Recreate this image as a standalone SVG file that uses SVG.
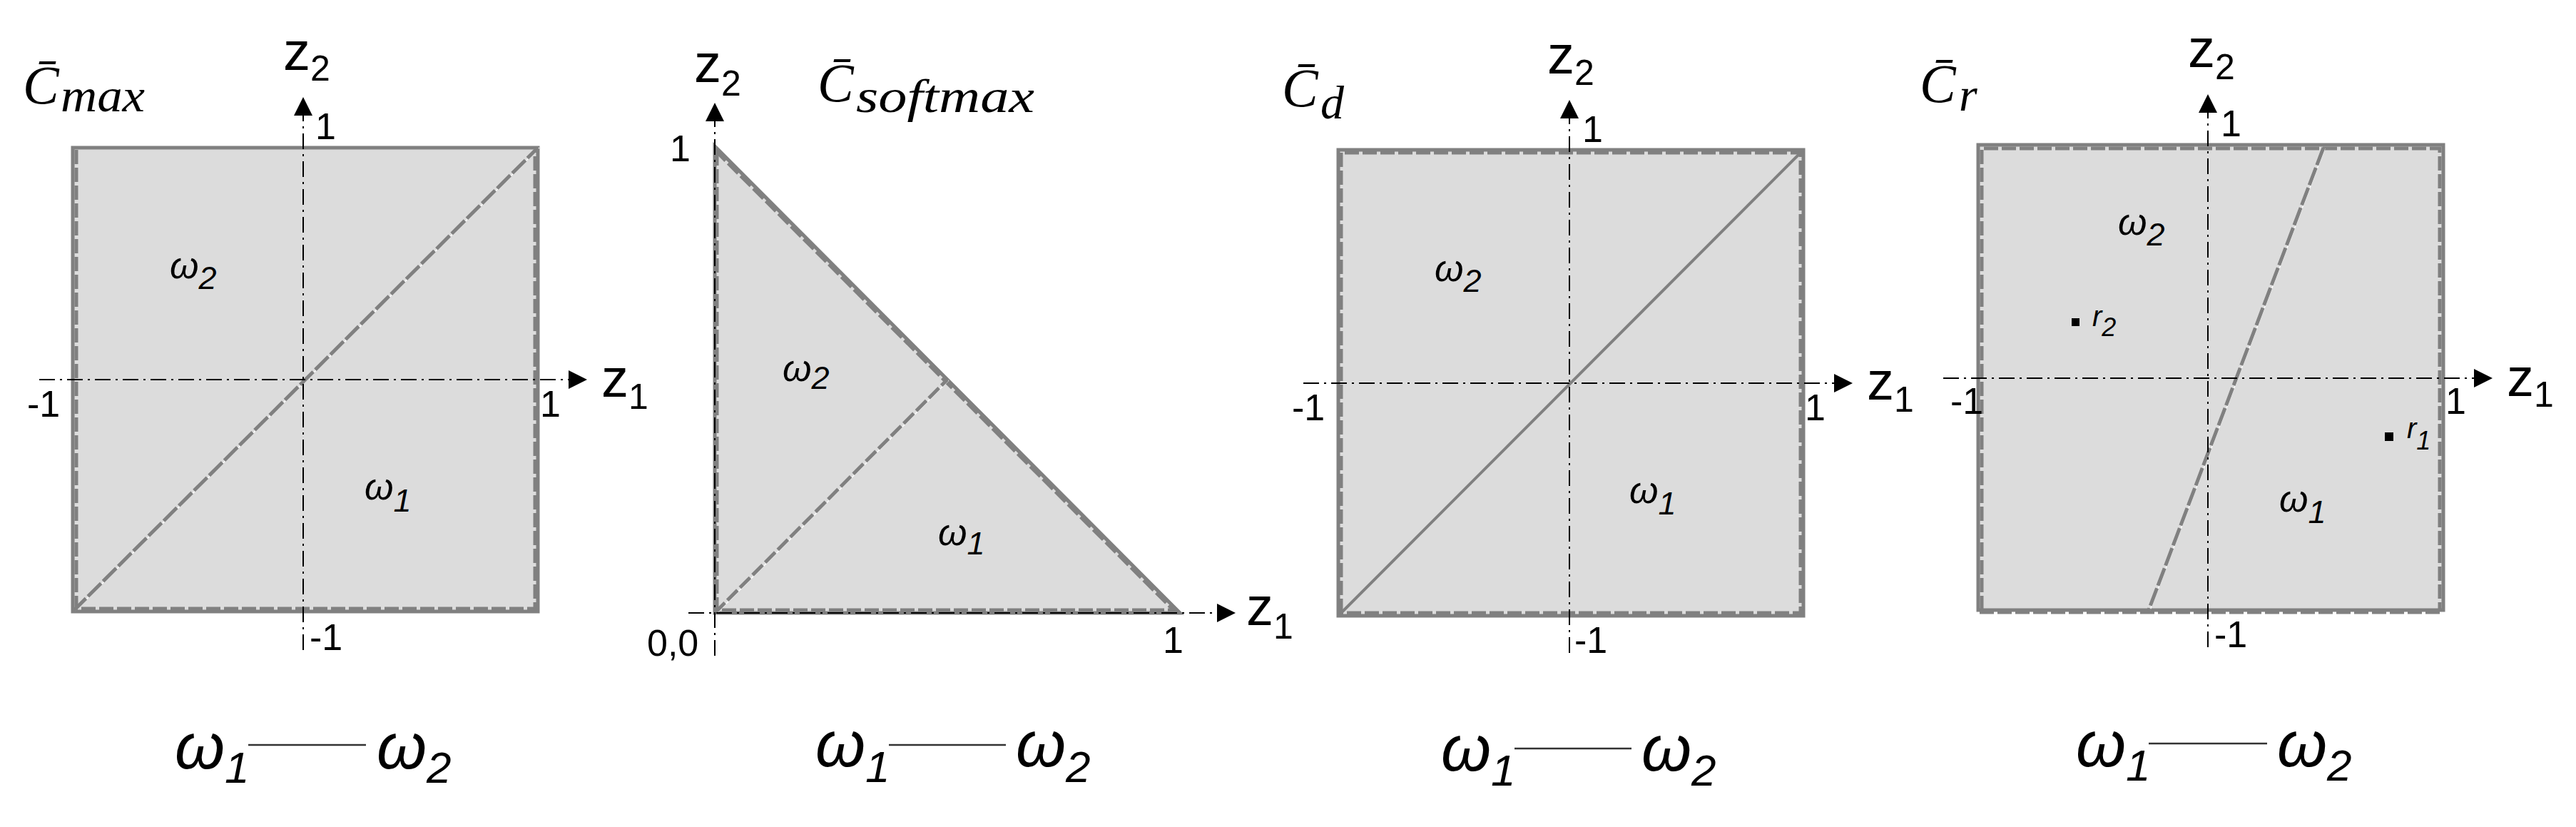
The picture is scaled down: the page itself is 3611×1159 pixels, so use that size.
<svg xmlns="http://www.w3.org/2000/svg" width="3611" height="1159" viewBox="0 0 3611 1159">
<defs>
<marker id="ah" markerWidth="26" markerHeight="26" refX="0" refY="13" orient="auto" markerUnits="userSpaceOnUse" viewBox="0 0 26 26"><path d="M0,0 L26,13 L0,26 z" fill="#000"/></marker>
</defs>
<style>
.reg{fill:#dcdcdc;stroke:#808080;stroke-width:5}
.dsh{fill:none;stroke:#808080;stroke-width:5;stroke-dasharray:20 5}
.bnd{fill:none;stroke:#808080;stroke-width:5;stroke-dasharray:26 4}
.sol{fill:none;stroke:#808080;stroke-width:4}
.wl{fill:none;stroke:#ffffff;stroke-width:1.3}
.ax{fill:none;stroke:#000;stroke-width:2;stroke-dasharray:22 7 3 7}
.cl{stroke:#333;stroke-width:2.5}
text{font-family:'Liberation Sans',Arial,Helvetica,sans-serif;fill:#000}
.tk{font-size:52px}
.zl{font-size:76px}
.zs{font-size:50px}
.om{font-size:52px;font-style:italic}
.oms{font-size:45px;font-style:italic}
.cp{font-size:90px;font-style:italic}
.cps{font-size:62px;font-style:italic}
.cc{font-family:'Liberation Serif','Times New Roman',serif;font-style:italic;font-size:76px}
.cs{font-family:'Liberation Serif','Times New Roman',serif;font-style:italic;font-size:66px}
.rl{font-size:40px;font-style:italic}
.rs{font-size:36px;font-style:italic}
</style>

<g id="panel-max">
<rect class="reg" x="102" y="207" width="652" height="650"/>
<path class="dsh" d="M107,210 V853 H750 V210"/>
<path class="wl" d="M104,857 L756,207"/>
<path class="bnd" d="M102,857 L754,207"/>
<text class="cc" x="32" y="145">C&#x304;</text>
<text class="cs" x="85" y="156" textLength="118" lengthAdjust="spacingAndGlyphs">max</text>
<text class="zl" x="397" y="98">z<tspan class="zs" dy="15">2</tspan></text>
<text class="zl" x="843" y="556">z<tspan class="zs" dy="17">1</tspan></text>
<text class="tk" x="442" y="195">1</text>
<text class="tk" x="38" y="584">-1</text>
<text class="tk" x="757" y="584">1</text>
<text class="tk" x="434" y="911">-1</text>
<text class="om" x="238" y="390">ω<tspan class="oms" dy="15">2</tspan></text>
<text class="om" x="511" y="700">ω<tspan class="oms" dy="17">1</tspan></text>
</g>

<g id="panel-softmax">
<path class="reg" d="M1002,205 L1654,859 L1002,859 Z"/>
<path class="dsh" d="M1003,211 L1648,858"/>
<path class="dsh" d="M1005,212 V855 H1646"/>
<path class="wl" d="M1004,860 L1330,533"/>
<path class="dsh" d="M1002,859 L1328,532"/>
<text class="zl" x="973" y="115">z<tspan class="zs" dy="19">2</tspan></text>
<text class="zl" x="1747" y="876">z<tspan class="zs" dy="19">1</tspan></text>
<text class="cc" x="1146" y="142">C&#x304;</text>
<text class="cs" x="1200" y="157" textLength="250" lengthAdjust="spacingAndGlyphs">softmax</text>
<text class="tk" x="939" y="226">1</text>
<text class="tk" x="907" y="919">0,0</text>
<text class="tk" x="1630" y="915">1</text>
<text class="om" x="1097" y="534">ω<tspan class="oms" dy="11">2</tspan></text>
<text class="om" x="1315" y="764">ω<tspan class="oms" dy="13">1</tspan></text>
</g>

<g id="panel-d">
<rect class="reg" x="1876" y="210" width="652" height="653"/>
<path class="dsh" d="M1880,859 V214 H2524 V859 Z"/>
<path class="sol" d="M1876,863 L2528,210"/>
<text class="cc" x="1797" y="149">C&#x304;</text>
<text class="cs" x="1851" y="166">d</text>
<text class="zl" x="2169" y="103">z<tspan class="zs" dy="16">2</tspan></text>
<text class="zl" x="2617" y="560">z<tspan class="zs" dy="17">1</tspan></text>
<text class="tk" x="2218" y="199">1</text>
<text class="tk" x="1811" y="589">-1</text>
<text class="tk" x="2530" y="589">1</text>
<text class="tk" x="2207" y="915">-1</text>
<text class="om" x="2011" y="394">ω<tspan class="oms" dy="15">2</tspan></text>
<text class="om" x="2284" y="705">ω<tspan class="oms" dy="16">1</tspan></text>
</g>

<g id="panel-r">
<rect class="reg" x="2773" y="203" width="652" height="652"/>
<path class="dsh" d="M2778,855 V208 H3420 V855"/>
<path class="dsh" d="M2775,858 H3423"/>
<path class="wl" d="M3259,208 L3014,855"/>
<path class="bnd" d="M3257,207 L3012,855"/>
<rect x="2904" y="446" width="11" height="11" fill="#000"/>
<rect x="3343" y="606" width="12" height="12" fill="#000"/>
<text class="rl" x="2933" y="457">r<tspan class="rs" dy="14">2</tspan></text>
<text class="rl" x="3374" y="614">r<tspan class="rs" dy="16">1</tspan></text>
<text class="cc" x="2691" y="143">C&#x304;</text>
<text class="cs" x="2746" y="155">r</text>
<text class="zl" x="3067" y="94">z<tspan class="zs" dy="17">2</tspan></text>
<text class="zl" x="3514" y="555">z<tspan class="zs" dy="15">1</tspan></text>
<text class="tk" x="3113" y="191">1</text>
<text class="tk" x="2734" y="580">-1</text>
<text class="tk" x="3428" y="580">1</text>
<text class="tk" x="3104" y="907">-1</text>
<text class="om" x="2969" y="329">ω<tspan class="oms" dy="15">2</tspan></text>
<text class="om" x="3195" y="717">ω<tspan class="oms" dy="16">1</tspan></text>
</g>

<g id="connectors">
<path class="ax" d="M55,532 H797" marker-end="url(#ah)"/>
<path class="ax" d="M425,911 V162" marker-end="url(#ah)"/>
<path class="ax" d="M965,859 H1706" marker-end="url(#ah)"/>
<path class="ax" d="M1002,919 V170" marker-end="url(#ah)"/>
<path class="ax" d="M1827,537 H2571" marker-end="url(#ah)"/>
<path class="ax" d="M2200,915 V166" marker-end="url(#ah)"/>
<path class="ax" d="M2724,530 H3468" marker-end="url(#ah)"/>
<path class="ax" d="M3095,907 V158" marker-end="url(#ah)"/>
</g>

<g id="caption-max">
<text class="cp" x="245" y="1077">ω<tspan class="cps" dy="20">1</tspan></text>
<line class="cl" x1="348" y1="1044" x2="513" y2="1044"/>
<text class="cp" x="528" y="1077">ω<tspan class="cps" dy="20">2</tspan></text>
</g>
<g id="caption-softmax">
<text class="cp" x="1143" y="1074">ω<tspan class="cps" dy="22">1</tspan></text>
<line class="cl" x1="1246" y1="1044" x2="1410" y2="1044"/>
<text class="cp" x="1424" y="1074">ω<tspan class="cps" dy="22">2</tspan></text>
</g>
<g id="caption-d">
<text class="cp" x="2020" y="1080">ω<tspan class="cps" dy="21">1</tspan></text>
<line class="cl" x1="2123" y1="1049" x2="2287" y2="1049"/>
<text class="cp" x="2301" y="1080">ω<tspan class="cps" dy="21">2</tspan></text>
</g>
<g id="caption-r">
<text class="cp" x="2910" y="1074">ω<tspan class="cps" dy="20">1</tspan></text>
<line class="cl" x1="3012" y1="1042" x2="3178" y2="1042"/>
<text class="cp" x="3192" y="1074">ω<tspan class="cps" dy="20">2</tspan></text>
</g>
</svg>
